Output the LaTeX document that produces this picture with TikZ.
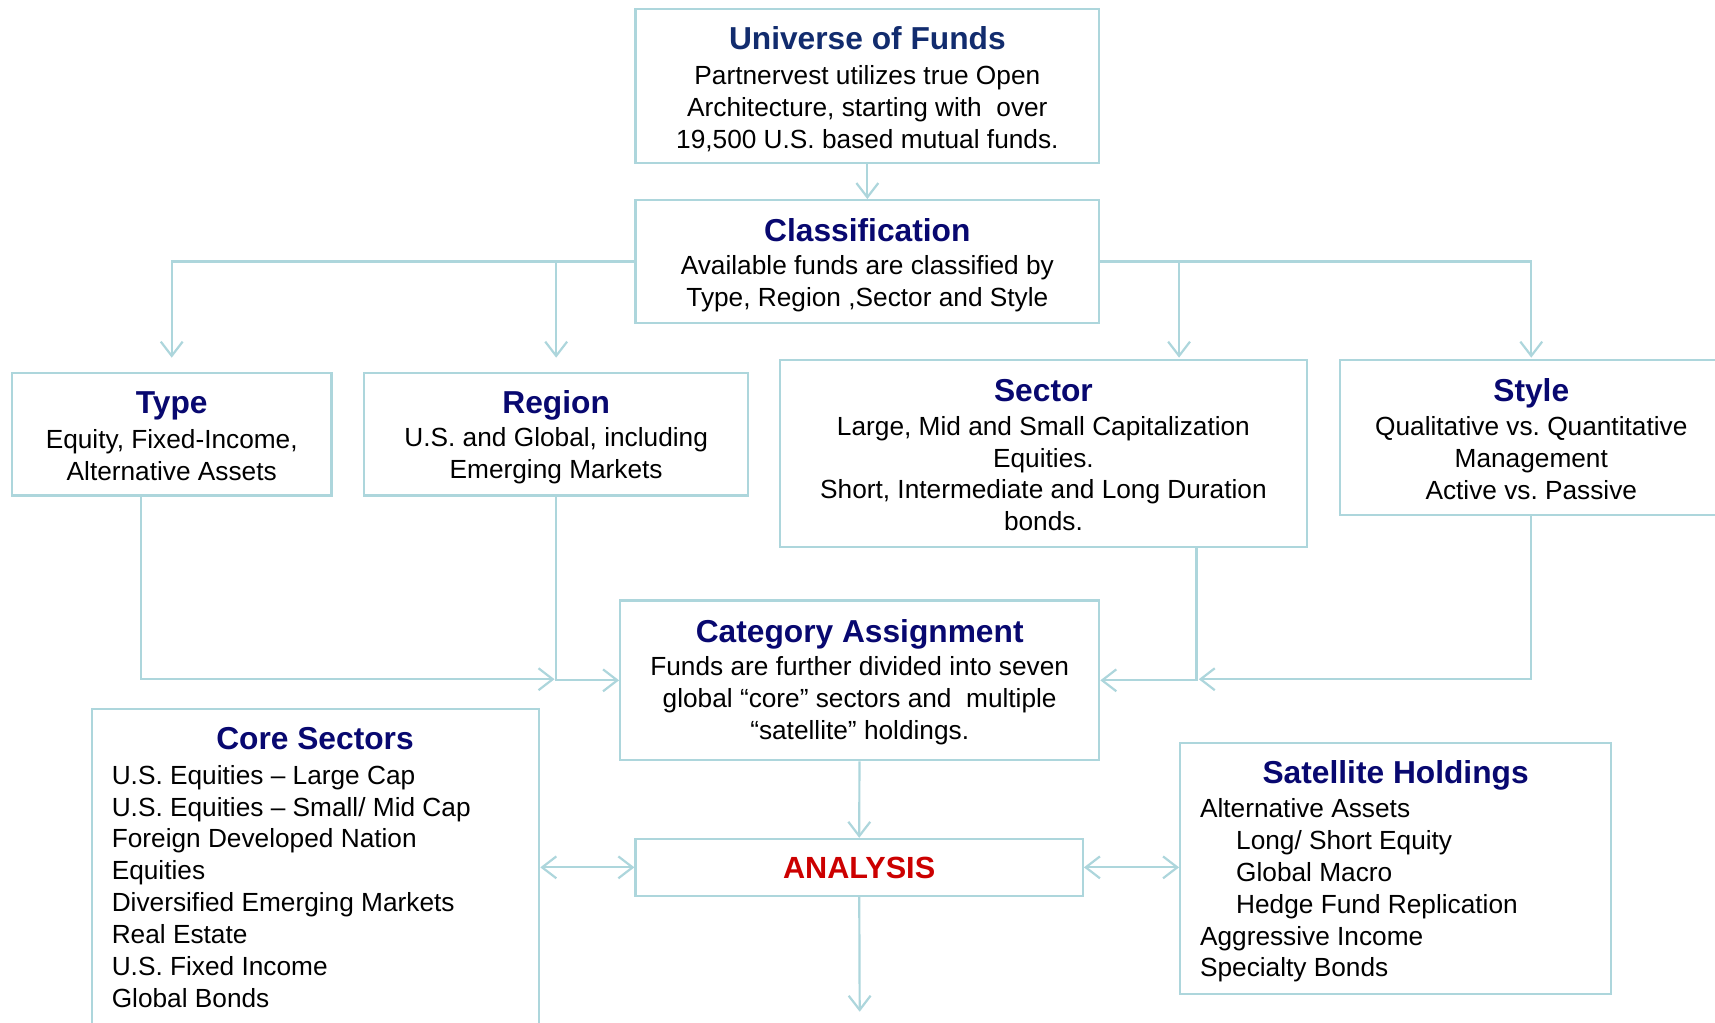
\documentclass[tikz,border=0pt]{standalone}
\usepackage{fontspec}
\setmainfont{Liberation Sans}
\usetikzlibrary{arrows.meta}
\definecolor{edgec}{RGB}{173,214,220}
\definecolor{navy}{RGB}{8,8,112}
\definecolor{navyb}{RGB}{18,44,110}
\definecolor{redtxt}{RGB}{204,0,0}
\begin{document}
\frenchspacing
\begin{tikzpicture}[x=1pt,y=-1pt,
 box/.style={draw=edgec,line width=2pt,rectangle,inner sep=0pt,fill=white},
 ttl/.style={font=\fontsize{29}{32}\selectfont\bfseries,text=navy,inner sep=0pt,anchor=center,text height=21pt,text depth=6pt},
 bodytxt/.style={font=\fontsize{24}{29.2}\selectfont,inner sep=0pt,align=center,anchor=center},
 listtxt/.style={font=\fontsize{24}{29.2}\selectfont,inner sep=0pt,align=left,anchor=west},
 arr/.style={draw=edgec,line width=2pt,-{Straight Barb[length=13pt,width=20pt]}},
 darr/.style={draw=edgec,line width=2pt,{Straight Barb[length=13pt,width=20pt]}-{Straight Barb[length=13pt,width=20pt]}},
]
\useasboundingbox (0,0) rectangle (1568,935);
\clip (0,0) rectangle (1568,935);
\fill[white] (0,0) rectangle (1568,935);

% boxes
\node[box,minimum width=424pt,minimum height=141pt] (univ) at (793,78.5) {};
\node[box,minimum width=424pt,minimum height=112pt] (cls) at (793,239) {};
\node[box,minimum width=292pt,minimum height=112pt] (type) at (157,397) {};
\node[box,minimum width=351pt,minimum height=112pt] (region) at (508.5,397) {};
\node[box,minimum width=482pt,minimum height=171pt] (sector) at (954,414.5) {};
\node[box,minimum width=350pt,minimum height=142pt] (style) at (1400,400) {};
\node[box,minimum width=438pt,minimum height=146pt] (cat) at (786,622) {};
\node[box,minimum width=409pt,minimum height=310pt] (core) at (288.5,803) {};
\node[box,minimum width=409pt,minimum height=52pt] (ana) at (785.5,793) {};
\node[box,minimum width=394pt,minimum height=230pt] (sat) at (1276,794) {};

% texts
\node[ttl,text=navyb] (t1) at (793,38) {Universe of Funds};
\node[bodytxt] (b1) at (793,99) {Partnervest utilizes true Open\\Architecture, starting with\ \ over\\19,500 U.S. based mutual funds.};
\node[ttl] (t2) at (793,213) {Classification};
\node[bodytxt] (b2) at (793,259.5) {Available funds are classified by\\Type, Region ,Sector and Style};
\node[ttl] (t3) at (157,371) {Type};
\node[bodytxt] (b3) at (157,416) {Equity, Fixed-Income,\\Alternative Assets};
\node[ttl] (t4) at (508.5,371) {Region};
\node[bodytxt] (b4) at (508.5,416.5) {U.S. and Global, including\\Emerging Markets};
\node[ttl] (t5) at (954,360) {Sector};
\node[bodytxt] (b5) at (954,433) {Large, Mid and Small Capitalization\\Equities.\\Short, Intermediate and Long Duration\\bonds.};
\node[ttl] (t6) at (1400,360) {Style};
\node[bodytxt] (b6) at (1400,418.5) {Qualitative vs. Quantitative\\Management\\Active vs. Passive};
\node[ttl] (t7) at (786,580) {Category Assignment};
\node[bodytxt] (b7) at (786,641) {Funds are further divided into seven\\global “core” sectors and\ \ multiple\\“satellite” holdings.};
\node[ttl] (t8) at (288,678) {Core Sectors};
\node[listtxt] (b8) at (102,810.5) {U.S. Equities – Large Cap\\U.S. Equities – Small/ Mid Cap\\Foreign Developed Nation\\Equities\\Diversified Emerging Markets\\Real Estate\\U.S. Fixed Income\\Global Bonds};
\node[ttl,text=redtxt,font=\fontsize{28}{30}\selectfont\bfseries] (t9) at (785.5,796) {ANALYSIS};
\node[ttl] (t10) at (1276,709) {Satellite Holdings};
\node[listtxt] (b10) at (1097,814) {Alternative Assets\\\hspace*{33pt}Long/ Short Equity\\\hspace*{33pt}Global Macro\\\hspace*{33pt}Hedge Fund Replication\\Aggressive Income\\Specialty Bonds};

% connectors
\coordinate (jl) at (509,621);
\coordinate (jr) at (1094,621);
\coordinate (out) at (786,925);
\draw[arr] (univ) -- (cls);
\draw[arr] (cls.west) -| ([yshift=13pt]type.north);
\draw[arr] (cls.west) -| ([yshift=13pt]region.north);
\draw[arr] (cls.east) -| ([xshift=124pt,yshift=1pt]sector.north);
\draw[arr] (cls.east) -| ([yshift=1pt]style.north);
\draw[arr] ([xshift=-28pt]type.south) |- ([xshift=-2pt]jl);
\draw[arr] (region.south) |- (cat.west);
\draw[arr] ([xshift=140pt]sector.south) |- (cat.east);
\draw[arr] (style.south) |- ([xshift=2pt]jr);
\draw[arr] (cat) -- (ana);
\draw[darr] (ana.west -| core.east) -- (ana.west);
\draw[darr] (ana.east) -- (ana.east -| sat.west);
\draw[arr] (ana) -- (out);
\end{tikzpicture}
\end{document}
